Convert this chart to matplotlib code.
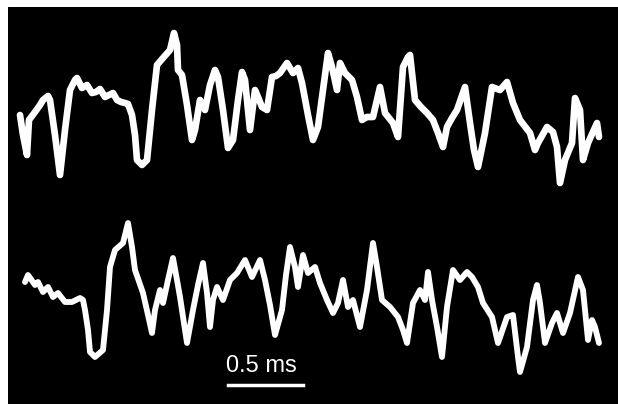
import matplotlib
matplotlib.use("Agg")
import matplotlib.pyplot as plt

# traces (horizontal position, vertical deflection), screen units
top_x = [20, 23, 27, 29, 35, 40, 43, 48, 50, 55, 60, 65, 70, 75, 77, 82, 87, 92, 96, 100,
         105, 109, 113, 117, 121, 125, 128, 132, 135, 137, 142, 147, 152, 157, 163, 170, 174,
         177, 178, 182, 187, 192, 195, 200, 205, 210, 215, 218, 223, 228, 233, 238, 242, 245,
         250, 255, 258, 262, 267, 272, 276, 280, 287, 293, 298, 302, 308, 313, 318, 323, 328,
         332, 337, 340, 345, 352, 357, 362, 367, 373, 380, 385, 393, 398, 403, 408, 410, 415,
         421, 427, 433, 438, 443, 447, 452, 457, 465, 470, 474, 478, 485, 492, 500, 507, 513,
         520, 530, 535, 538, 547, 553, 557, 560, 565, 572, 575, 580, 583, 588, 597, 599]
top_y = [115, 135, 155, 120, 112, 105, 100, 96, 100, 135, 175, 130, 90, 80, 78, 88, 85, 93,
         92, 89, 97, 95, 93, 100, 102, 103, 104, 115, 135, 160, 165, 160, 110, 65, 58, 50, 33,
         45, 70, 75, 105, 140, 130, 100, 110, 85, 70, 77, 110, 148, 140, 100, 72, 80, 130, 90,
         97, 107, 110, 77, 76, 73, 63, 73, 68, 83, 115, 140, 127, 90, 53, 67, 90, 63, 73, 80,
         97, 120, 117, 117, 87, 113, 123, 137, 67, 57, 55, 100, 107, 113, 120, 133, 147, 127,
         118, 110, 87, 123, 150, 167, 133, 87, 90, 82, 103, 120, 133, 150, 143, 127, 132, 147,
         183, 160, 143, 98, 110, 160, 143, 123, 137]

bot_x = [25, 28, 35, 38, 43, 48, 53, 58, 65, 72, 80, 83, 85, 88, 90, 95, 103, 107, 110, 115,
         123, 128, 132, 135, 143, 148, 152, 155, 160, 163, 168, 173, 177, 180, 187, 193, 198,
         203, 207, 210, 213, 217, 223, 230, 237, 245, 252, 260, 265, 270, 275, 282, 286, 290,
         295, 298, 303, 308, 315, 320, 327, 333, 338, 343, 348, 353, 360, 367, 373, 377, 382,
         390, 398, 403, 407, 413, 420, 425, 428, 432, 437, 442, 447, 453, 460, 467, 472, 478,
         483, 492, 498, 507, 513, 518, 520, 527, 533, 537, 540, 545, 552, 557, 563, 570, 578,
         583, 588, 592, 595, 599]
bot_y = [282, 275, 285, 282, 292, 287, 297, 293, 302, 302, 298, 300, 310, 330, 352, 357, 350,
         310, 267, 250, 243, 223, 247, 270, 293, 315, 333, 310, 290, 303, 280, 258, 280, 297,
         343, 310, 285, 263, 293, 327, 300, 287, 300, 280, 273, 260, 277, 260, 280, 305, 335,
         310, 275, 247, 267, 287, 255, 273, 267, 283, 300, 313, 303, 280, 307, 300, 327, 290,
         243, 267, 300, 307, 317, 330, 343, 303, 290, 300, 272, 300, 327, 357, 307, 270, 280,
         272, 277, 287, 303, 317, 343, 317, 315, 357, 372, 347, 300, 285, 303, 343, 323, 313,
         333, 313, 277, 290, 340, 320, 327, 343]

scale_label = "0.5 ms"
scale_x = [228, 303]   # 0.5 ms
scale_y = 385

fig = plt.figure(figsize=(6.18, 4.04), dpi=100, facecolor="white")
ax = fig.add_axes([8 / 618, 0, 610 / 618, 397 / 404])
ax.set_facecolor("black")
ax.set_xlim(8, 618)
ax.set_ylim(404, 7)
ax.axis("off")
ax.add_patch(plt.Rectangle((8, 7), 610, 397, color="black", zorder=0))

ax.plot(top_x, top_y, color="white", linewidth=4.8, solid_joinstyle="round", solid_capstyle="round")
ax.plot(bot_x, bot_y, color="white", linewidth=4.2, solid_joinstyle="round", solid_capstyle="round")

# scale bar
ax.plot(scale_x, [scale_y, scale_y], color="white", linewidth=2.5)
ax.text(sum(scale_x) / 2 - 4, 366, scale_label, color="white", fontsize=17,
        family="Liberation Sans", ha="center", va="center")

fig.savefig("out.png", dpi=100, facecolor="white")
